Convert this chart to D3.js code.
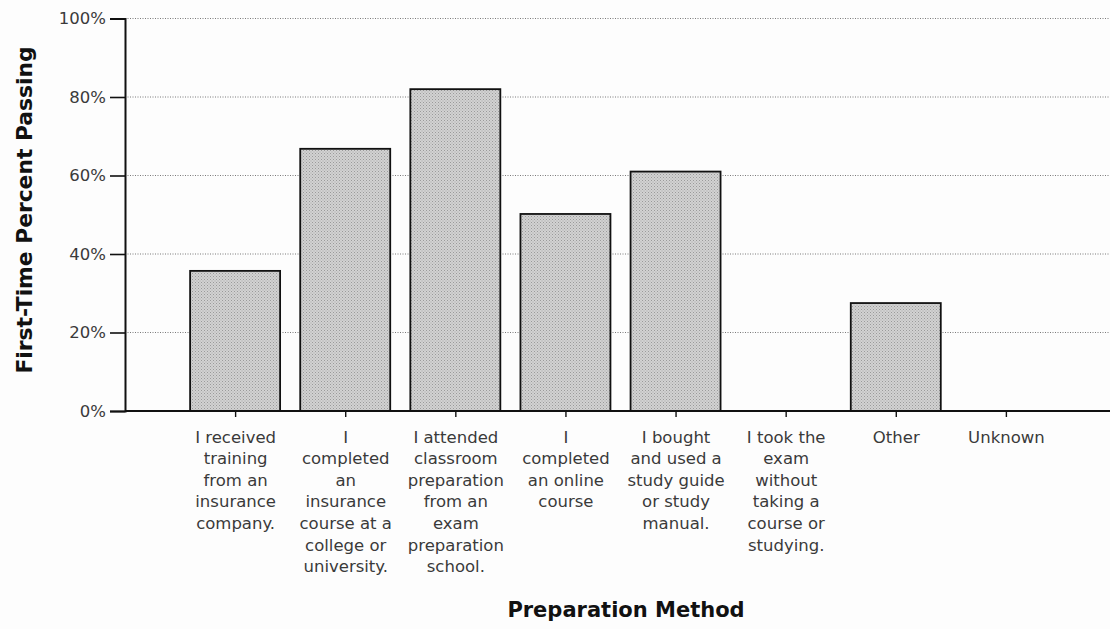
<!DOCTYPE html>
<html>
<head>
<meta charset="utf-8">
<script src="https://cdn.jsdelivr.net/npm/d3@7"></script>
<style>
  body { margin: 0; background: #fdfdfd; }
  svg { display: block; font-family: "DejaVu Sans", Verdana, sans-serif; }
</style>
</head>
<body>
<div id="chart"></div>
<script>
// category labels, already wrapped the way the original prints them
const categories = [
    ["I received", "training", "from an", "insurance", "company."],
    ["I", "completed", "an", "insurance", "course at a", "college or", "university."],
    ["I attended", "classroom", "preparation", "from an", "exam", "preparation", "school."],
    ["I", "completed", "an online", "course"],
    ["I bought", "and used a", "study guide", "or study", "manual."],
    ["I took the", "exam", "without", "taking a", "course or", "studying."],
    ["Other"],
    ["Unknown"]
];
const passRate = [35.7, 66.8, 82, 50.2, 61, 0, 27.5, 0];
const yTicks = [0, 20, 40, 60, 80, 100];

const width = 1110, height = 629;
const plotLeft = 125, plotRight = 1116, plotTop = 18.5, plotBottom = 411;

const svg = d3.select("#chart")
    .append("svg")
    .attr("width", width)
    .attr("height", height);

// stipple look of the bars
const defs = svg.append("defs");
const pat = defs.append("pattern")
    .attr("id", "stipple")
    .attr("width", 3)
    .attr("height", 3)
    .attr("patternUnits", "userSpaceOnUse");
pat.append("rect").attr("width", 3).attr("height", 3).attr("fill", "#d2d2d2");
pat.append("rect").attr("x", 0).attr("y", 0).attr("width", 1).attr("height", 1).attr("fill", "#9a9a9a");
pat.append("rect").attr("x", 1.5).attr("y", 1.5).attr("width", 1).attr("height", 1).attr("fill", "#a8a8a8");

const xScale = d3.scalePoint()
    .domain(d3.range(categories.length))
    .range([plotLeft, plotRight])
    .padding(1);

const yScale = d3.scaleLinear()
    .domain([0, 100])
    .range([plotBottom, plotTop]);

// dotted gridlines
svg.append("g")
    .selectAll("line")
    .data(yTicks.filter(d => d > 0))
    .join("line")
    .attr("x1", plotLeft)
    .attr("x2", width)
    .attr("y1", d => yScale(d))
    .attr("y2", d => yScale(d))
    .attr("stroke", "#7a7a7a")
    .attr("stroke-width", 1)
    .attr("stroke-dasharray", "1,1.5");

const barW = 90;
svg.append("g")
    .selectAll("rect")
    .data(passRate.map((v, i) => ({i: i, v: v})).filter(d => d.v > 0))
    .join("rect")
    .attr("x", d => xScale(d.i) - barW / 2)
    .attr("y", d => yScale(d.v))
    .attr("width", barW)
    .attr("height", d => plotBottom - yScale(d.v))
    .attr("fill", "url(#stipple)")
    .attr("stroke", "#111")
    .attr("stroke-width", 1.8);

const yAxis = d3.axisLeft(yScale)
    .tickValues(yTicks)
    .tickSize(15)
    .tickPadding(4)
    .tickFormat(d => d + "%");
const yAxisGroup = svg.append("g")
    .attr("transform", `translate(${plotLeft},0)`)
    .call(yAxis);
yAxisGroup.select(".domain").attr("stroke", "#111").attr("stroke-width", 2);
yAxisGroup.selectAll(".tick line").attr("stroke", "#111").attr("stroke-width", 1.6);
yAxisGroup.selectAll("text")
    .style("font-size", "16.5px")
    .style("font-family", "DejaVu Sans")
    .attr("fill", "#3a3a3a");

const xAxis = d3.axisBottom(xScale)
    .tickSize(6)
    .tickFormat("");
const xAxisGroup = svg.append("g")
    .attr("transform", `translate(0,${plotBottom})`)
    .call(xAxis);
xAxisGroup.select(".domain")
    .attr("d", `M${plotLeft},0H${width}`)
    .attr("stroke", "#111")
    .attr("stroke-width", 2);
xAxisGroup.selectAll(".tick line").attr("stroke", "#111").attr("stroke-width", 1.4);

// wrapped category labels
const lineH = 21.6;
xAxisGroup.selectAll(".tick")
    .append("text")
    .attr("fill", "#3a3a3a")
    .attr("text-anchor", "middle")
    .style("font-size", "16.5px")
    .style("font-family", "DejaVu Sans")
    .each(function (d) {
        d3.select(this)
            .selectAll("tspan")
            .data(categories[d])
            .join("tspan")
            .attr("x", 0)
            .attr("y", (t, j) => 31.5 + j * lineH)
            .text(t => t);
    });

svg.append("text")
    .attr("transform", `translate(32,210) rotate(-90)`)
    .attr("text-anchor", "middle")
    .style("font-size", "21.8px")
    .style("font-weight", "700")
    .attr("fill", "#111")
    .text("First-Time Percent Passing");

svg.append("text")
    .attr("x", 626)
    .attr("y", 617)
    .attr("text-anchor", "middle")
    .style("font-size", "21px")
    .style("font-weight", "700")
    .attr("fill", "#111")
    .text("Preparation Method");
</script>
</body>
</html>
